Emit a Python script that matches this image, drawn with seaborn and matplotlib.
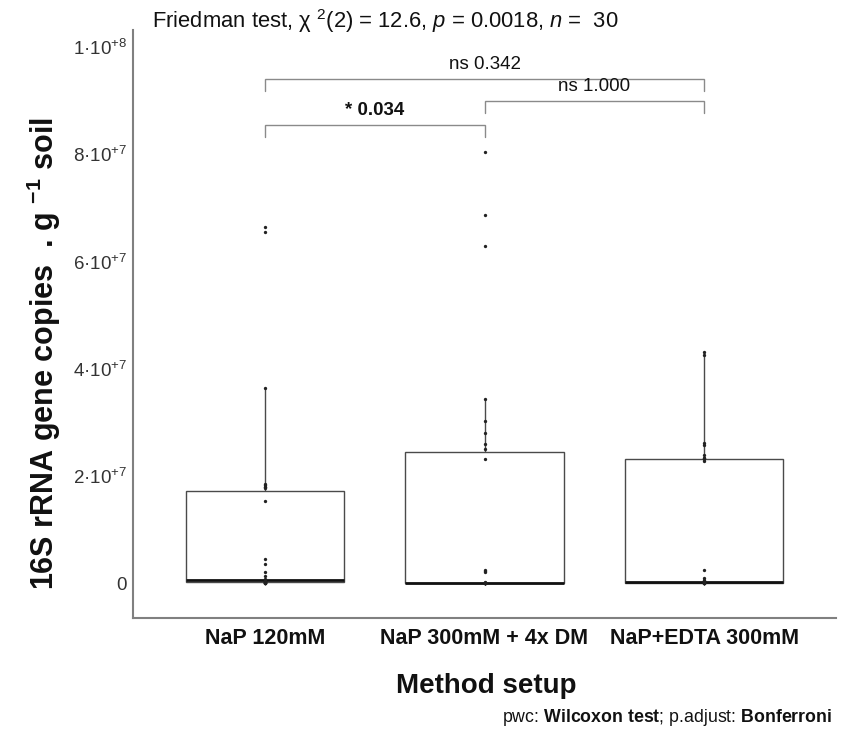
import numpy as np
import pandas as pd
import seaborn as sns
import matplotlib.pyplot as plt

# 16S rRNA gene copies per g soil, 30 soils per extraction method
methods = ["NaP 120mM", "NaP 300mM + 4x DM", "NaP+EDTA 300mM"]

nap_120 = [2e3, 5e3, 1e4, 2e4, 3e4, 5e4, 8e4, 1.1e5, 1.5e5, 2e5,
           2.6e5, 3.2e5, 4e5, 4.6e5, 5.2e5, 6e5, 8e5, 1.3e6, 2.1e6, 3.6e6,
           4.4e6, 1.53e7, 1.78e7, 1.79e7, 1.8e7, 1.82e7, 1.84e7, 3.63e7,
           6.55e7, 6.64e7]

nap_300_dm = [0, 1e3, 2e3, 3e3, 5e3, 7e3, 1e4, 1.3e4, 1.6e4, 2e4,
              2.5e4, 3e4, 3.5e4, 4e4, 5e4, 6e4, 8e4, 1e5, 2.1e6, 2.25e6,
              2.4e6, 2.31e7, 2.5e7, 2.59e7, 2.8e7, 3.02e7, 3.43e7, 6.29e7,
              6.86e7, 8.05e7]

nap_edta_300 = [0, 2e3, 5e3, 1e4, 1.5e4, 2e4, 3e4, 4e4, 5e4, 7e4,
                9e4, 1.2e5, 1.6e5, 2e5, 2.5e5, 3e5, 3.5e5, 4e5, 5e5, 9e5,
                2.5e6, 2.28e7, 2.32e7, 2.33e7, 2.34e7, 2.38e7, 2.58e7, 2.61e7,
                4.25e7, 4.32e7]

# pairwise Wilcoxon comparisons (Bonferroni adjusted)
pair_groups = [(0, 1), (1, 2), (0, 2)]
pair_labels = ["* 0.034", "ns 1.000", "ns 0.342"]
pair_bold = [True, False, False]
pair_heights = [8.54e7, 8.99e7, 9.40e7]

y_ticks = [0, 2e7, 4e7, 6e7, 8e7, 1e8]
y_tick_labels = ["0",
                 "$\\mathregular{2·10^{+7}}$",
                 "$\\mathregular{4·10^{+7}}$",
                 "$\\mathregular{6·10^{+7}}$",
                 "$\\mathregular{8·10^{+7}}$",
                 "$\\mathregular{1·10^{+8}}$"]

df = pd.DataFrame({
    "method": np.repeat(methods, 30),
    "copies": nap_120 + nap_300_dm + nap_edta_300,
})

sns.set_theme(style="white")
plt.rcParams["font.family"] = ["Liberation Sans", "DejaVu Sans"]
plt.rcParams["mathtext.fontset"] = "custom"
plt.rcParams["mathtext.rm"] = "Liberation Sans"
plt.rcParams["mathtext.it"] = "Liberation Sans:italic"
plt.rcParams["mathtext.bf"] = "Liberation Sans:bold"

W, H = 846, 735
fig = plt.figure(figsize=(W / 100, H / 100), dpi=100)
ax = fig.add_axes([133 / W, 1 - 618 / H, (836 - 133) / W, (618 - 30) / H])

sns.boxplot(data=df, x="method", y="copies", order=methods, width=0.72,
            showfliers=False, showcaps=False, color="white", linecolor="#4a4a4a",
            linewidth=1.0, medianprops=dict(color="#111111", linewidth=2.0), ax=ax)
sns.stripplot(data=df, x="method", y="copies", order=methods, jitter=False,
              color="#222222", size=2.4, ax=ax)

ax.set_xlim(-0.6, 2.6)
ax.set_ylim(-0.653e7, 10.32e7)
ax.set_yticks(y_ticks)
ax.set_yticklabels(y_tick_labels, fontsize=13.5, color="#333333")
ax.tick_params(axis="x", labelsize=15.5, colors="#111111", length=3, color="#888888", pad=4)
ax.tick_params(axis="y", length=3, color="#888888", pad=1.5)
for lab in ax.get_xticklabels():
    lab.set_fontweight("bold")
ax.set_xlabel("")
ax.set_ylabel("")
for side in ("top", "right"):
    ax.spines[side].set_visible(False)
for side in ("left", "bottom"):
    ax.spines[side].set_color("#808080")
    ax.spines[side].set_linewidth(1.5)

# significance brackets
tip = 0.22e7
for (a, b), lab, bold, h in zip(pair_groups, pair_labels, pair_bold, pair_heights):
    ax.plot([a, a, b, b], [h - tip, h, h, h - tip], color="#8a8a8a", lw=1.0,
            solid_joinstyle="miter")
    ax.text((a + b) / 2, h + 0.12e7, lab, ha="center", va="bottom",
            fontsize=13.5, fontweight="bold" if bold else "normal", color="#111111")

fig.text(152 / W, 1 - 21 / H,
         "Friedman test, χ $^{2}$(2) = 12.6, $\\it{p}$ = 0.0018, $\\it{n}$ =  30",
         ha="left", va="center", fontsize=15.8, color="#111111")

fig.text(44 / W, 1 - 354 / H,
         "16S rRNA gene copies  . g $^{\\bf{-1}}$ soil",
         rotation=90, ha="center", va="center", fontsize=22, fontweight="bold",
         color="#111111")

fig.text(486 / W, 1 - 686 / H, "Method setup", ha="center", va="center",
         fontsize=20, fontweight="bold", color="#111111")

fig.text(832 / W, 1 - 718 / H,
         "pwc: $\\bf{Wilcoxon\\ test}$; p.adjust: $\\bf{Bonferroni}$",
         ha="right", va="center", fontsize=12.8, color="#111111")

fig.savefig("out.png", dpi=100, facecolor="white")
